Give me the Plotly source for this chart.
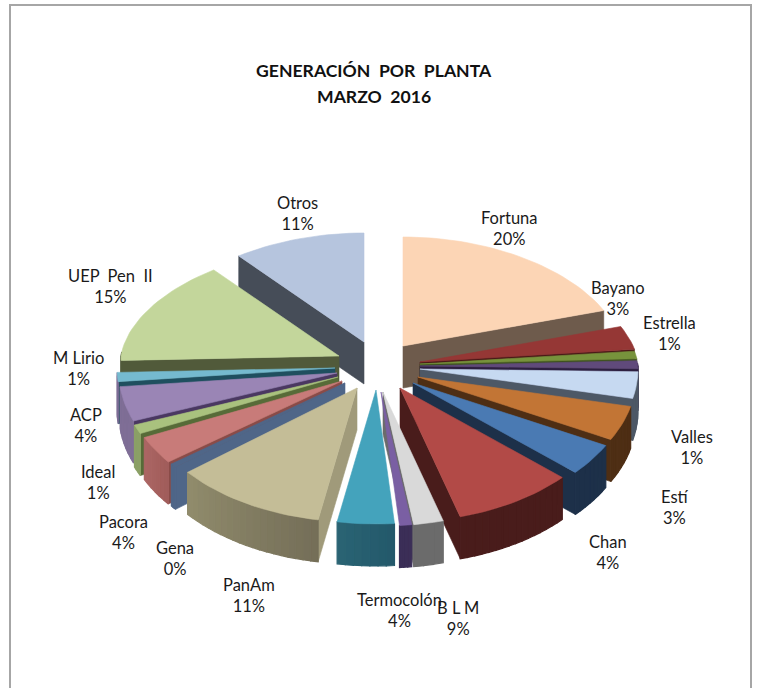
import math
import plotly.graph_objects as go

# ---- data (percent of generation per slice, clockwise from 12 o'clock) ----
slice_names = ["Fortuna", "Bayano", "Estrella", "Valles", "Estí", "Chan", "Sin etiqueta A", "B L M",
               "Sin etiqueta B", "Sin etiqueta C", "Termocolón", "PanAm", "Gena", "Pacora", "Ideal",
               "ACP", "M Lirio", "UEP Pen II", "Otros"]
slice_values = [19.7, 3.4, 1.1, 1.1, 3.2, 4.2, 3.9, 8.9, 2.2, 0.9, 4.2, 11.3, 0.5, 3.4, 1.1, 4.2, 1.1, 15.0, 10.5]

label_names = ["Fortuna", "Bayano", "Estrella", "Valles", "Estí", "Chan", "B L M", "Termocolón",
               "PanAm", "Gena", "Pacora", "Ideal", "ACP", "M Lirio", "UEP  Pen  II", "Otros"]
label_pcts = [20, 3, 1, 1, 3, 4, 9, 4, 11, 0, 4, 1, 4, 1, 15, 11]

title_lines = ["GENERACIÓN  POR  PLANTA", "MARZO  2016"]

# ---- styles ----
top_colors = ["#FCD5B5", "#953735", "#77933C", "#604A7B", "#C6D9F1", "#C27535", "#4A7AB3", "#B24A47",
              "#D9D9D9", "#7A5FA3", "#44A3BC", "#C4BD97", "#4F6688", "#C87B79", "#A9C27E",
              "#9A85B5", "#75BACF", "#C3D69B", "#B6C5DE"]
cut_colors = ["#6E5B4C", "#4A1A18", "#3F5220", "#2D1F40", "#4D5866", "#4E2E14", "#1D3049", "#491C1B",
              "#6B6B6B", "#3B2E57", "#275F6F", "#A09A7A", "#4F6688", "#8A4B48", "#576B38",
              "#4A3861", "#1F4F5F", "#515A3A", "#464D58"]
wall_left = ["#6E5B4C", "#4A1A18", "#3F5220", "#2D1F40", "#4D5866", "#4E2E14", "#1D3049", "#491C1B",
             "#6B6B6B", "#3B2E57", "#2A6474", "#918C6C", "#4F6688", "#AC6664", "#8BA066",
             "#7F6E96", "#7F6E96", "#515A3A", "#464D58"]
wall_right = ["#6E5B4C", "#4A1A18", "#3F5220", "#2D1F40", "#4D5866", "#4E2E14", "#1D3049", "#491C1B",
              "#6B6B6B", "#3B2E57", "#23586A", "#746E58", "#4F6688", "#A05C5A", "#8BA066",
              "#7F6E96", "#7F6E96", "#515A3A", "#464D58"]
explode_x = [20, 37, 37, 37, 37, 35, 30, 17, 0, -2, -7, -26, -38, -41, -45, -46, -48, -44, -19]
explode_y = [-20, -4, -2, 0, 3, 11, 17, 22, 26, 26, 24, 22, 17, 15, 11, 7, 2, -10, -24]
label_x = [509, 618, 669, 692, 675, 608, 458, 399, 249, 175, 123, 98, 86, 78, 110, 297]
label_y = [228, 298, 333, 447, 507, 552, 618, 610, 595, 558, 532, 482, 425, 368, 286, 213]
title_x, title_y = [374, 374], [70, 96]
CX, CY, RX, RY_BACK, RY_FRONT, DEPTH, BACK_NARROW = 383, 366, 218, 109, 134, 42, 0.08


def hex2rgb(h):
    return [int(h[i:i + 2], 16) for i in (1, 3, 5)]


def lerp(a, b, t):
    A, B = hex2rgb(a), hex2rgb(b)
    return "rgb(%d,%d,%d)" % tuple(round(p + (q - p) * t) for p, q in zip(A, B))


def pt(ax, ay, deg):
    r = math.radians(deg)
    c = math.cos(r)
    sx = RX * (1 - BACK_NARROW * max(c, 0))
    return ax + sx * math.sin(r), ay - (RY_BACK if c > 0 else RY_FRONT) * c


def poly(fig, pts, color, width=0.6):
    xs = [p[0] for p in pts] + [pts[0][0]]
    ys = [p[1] for p in pts] + [pts[0][1]]
    fig.add_trace(go.Scatter(x=xs, y=ys, mode="lines", fill="toself", fillcolor=color,
                             line=dict(color=color, width=width), hoverinfo="skip", showlegend=False))


total = sum(slice_values)
start = 0.0
slices = []
for i, v in enumerate(slice_values):
    end = start + 360.0 * v / total
    slices.append((i, start, end))
    start = end

fig = go.Figure()
for i, a, b in sorted(slices, key=lambda s: -math.cos(math.radians((s[1] + s[2]) / 2))):
    ax, ay = CX + explode_x[i], CY + explode_y[i]
    n = max(3, int((b - a) / 2))
    arc = [a + (b - a) * k / n for k in range(n + 1)]
    # cut faces: the one towards the viewer is extruded downward
    if b < 175:
        p = pt(ax, ay, b)
        poly(fig, [(ax, ay), p, (p[0], p[1] + DEPTH), (ax, ay + DEPTH)], cut_colors[i])
    if a > 180:
        p = pt(ax, ay, a)
        poly(fig, [(ax, ay), p, (p[0], p[1] + DEPTH), (ax, ay + DEPTH)], cut_colors[i])
    # outer wall, in strips for shading
    for k in range(n):
        t0, t1 = arc[k], arc[k + 1]
        if math.cos(math.radians((t0 + t1) / 2)) < 0.02:
            p0, p1 = pt(ax, ay, t0), pt(ax, ay, t1)
            col = lerp(wall_right[i], wall_left[i], (k + 0.5) / n)
            poly(fig, [p0, p1, (p1[0], p1[1] + DEPTH), (p0[0], p0[1] + DEPTH)], col, width=1.2)
    # top face
    poly(fig, [(ax, ay)] + [pt(ax, ay, t) for t in arc], top_colors[i])

annotations = []
for name, pct, x, y in zip(label_names, label_pcts, label_x, label_y):
    annotations.append(dict(x=x, y=y, xref="x", yref="y", showarrow=False, align="center",
                            text=f"{name}<br>{pct}%", font=dict(family="Lato", size=16.5, color="#1a1a1a")))
for line, x, y in zip(title_lines, title_x, title_y):
    annotations.append(dict(x=x, y=y, xref="x", yref="y", showarrow=False,
                            text=f"<b>{line}</b>", font=dict(family="Lato", size=17.6, color="#111111")))

fig.update_layout(
    width=757, height=688, margin=dict(l=0, r=0, t=0, b=0),
    paper_bgcolor="white", plot_bgcolor="white", showlegend=False,
    xaxis=dict(range=[0, 757], visible=False, fixedrange=True),
    yaxis=dict(range=[688, 0], visible=False, fixedrange=True),
    annotations=annotations,
    shapes=[dict(type="rect", xref="x", yref="y", x0=10, y0=5, x1=751, y1=700,
                 line=dict(color="#A6A6A6", width=2), fillcolor="rgba(0,0,0,0)", layer="below")],
)
fig.write_html("out.html", config={"displayModeBar": False},
               post_script="document.body.style.margin='0';document.documentElement.style.overflow='hidden';")
